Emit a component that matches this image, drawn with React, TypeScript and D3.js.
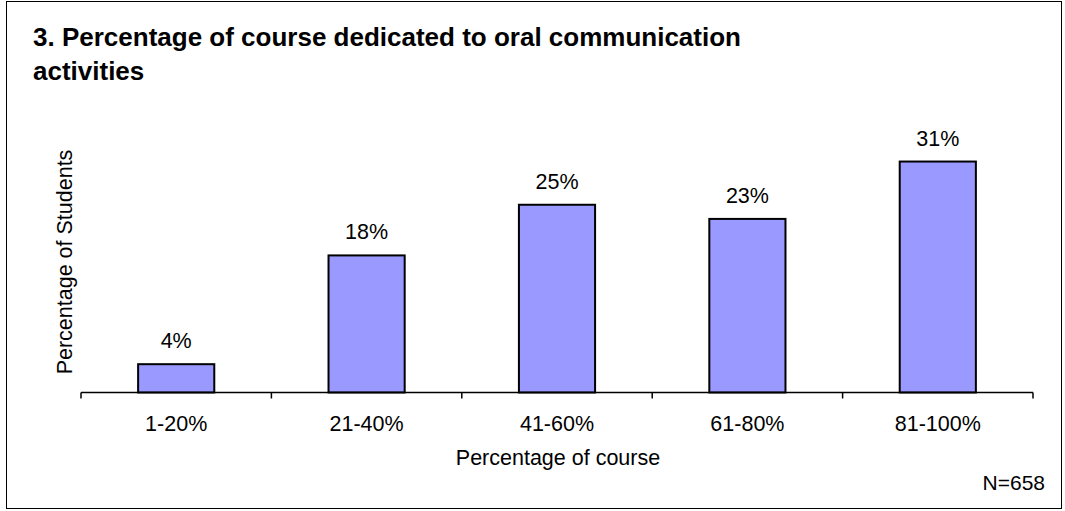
import React from "react";
import * as d3 from "d3";

const categories = ["1-20%", "21-40%", "41-60%", "61-80%", "81-100%"];
const values = [3.8, 18.4, 25.2, 23.3, 31.0];
const titleLines = ["3. Percentage of course dedicated to oral communication", "activities"];
const xTitle = "Percentage of course";
const yTitle = "Percentage of Students";
const note = "N=658";

export default function App() {
  const W = 1065, H = 511;
  const x0 = 81, x1 = 1033, y0 = 392.5;
  const x = d3.scaleBand<string>().domain(categories).range([x0, x1]).paddingInner(0.6).paddingOuter(0.3);
  const y = d3.scaleLinear().domain([0, 35]).range([y0, y0 - 35 * 7.45]);
  const step = (x1 - x0) / categories.length;
  const font = "'Liberation Sans', Arial, sans-serif";
  const fs = 21.5;
  return (
    <svg width={W} height={H} style={{ position: "absolute", left: 0, top: 0 }} fontFamily={font}>
      <rect x={0} y={0} width={W} height={H} fill="#fff" />
      <rect x={6.5} y={1.5} width={1055} height={507} fill="none" stroke="#000" strokeWidth={1} />
      {titleLines.map((t, i) => (
        <text key={i} x={33} y={46 + i * 34} fontSize={26} fontWeight="bold" fill="#000">{t}</text>
      ))}
      {categories.map((c, i) => (
        <rect key={c} x={x(c)!} y={y(values[i])} width={x.bandwidth()} height={y0 - y(values[i])}
          fill="#9999FF" stroke="#000" strokeWidth={2} />
      ))}
      {categories.map((c, i) => (
        <text key={"l" + c} x={x(c)! + x.bandwidth() / 2} y={y(values[i]) - 16} fontSize={fs} textAnchor="middle" fill="#000">
          {Math.round(values[i]) + "%"}
        </text>
      ))}
      <line x1={x0} x2={x1} y1={y0} y2={y0} stroke="#000" strokeWidth={1.5} />
      {d3.range(categories.length + 1).map((i) => (
        <line key={"t" + i} x1={x0 + i * step} x2={x0 + i * step} y1={y0} y2={y0 + 6} stroke="#000" strokeWidth={1.5} />
      ))}
      {categories.map((c) => (
        <text key={"x" + c} x={x(c)! + x.bandwidth() / 2} y={431} fontSize={fs} textAnchor="middle" fill="#000">{c}</text>
      ))}
      <text x={558} y={465} fontSize={fs} textAnchor="middle" fill="#000">{xTitle}</text>
      <text transform="translate(72,262) rotate(-90)" fontSize={fs} textAnchor="middle" fill="#000">{yTitle}</text>
      <text x={1045} y={490} fontSize={21} textAnchor="end" fill="#000">{note}</text>
    </svg>
  );
}
